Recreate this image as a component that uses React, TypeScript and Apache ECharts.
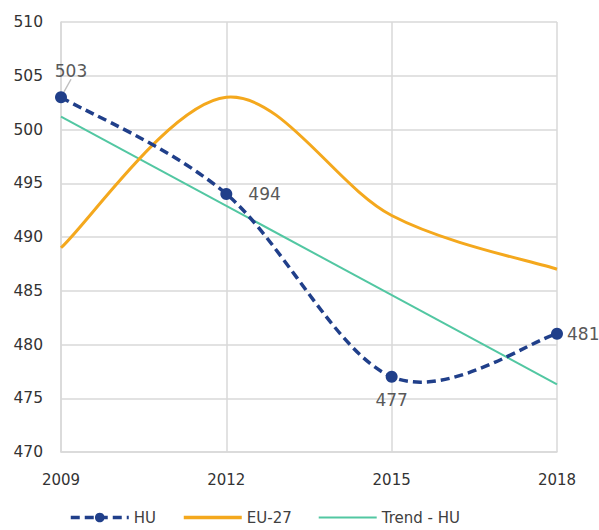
import React, { useEffect, useRef } from "react";
import * as echarts from "echarts";

const years = ["2009", "2012", "2015", "2018"];
const yTicks = [470, 510, 5];
const huValues = [503, 494, 477, 481];
const euValues = [489, 503, 492, 487];
const trendValues = [501.2, null, null, 476.3];

const FONT = "DejaVu Sans, Verdana, sans-serif";
const BLUE = "#203f8a";
const ORANGE = "#f4a81d";
const GREEN = "#52c7a2";
const GRID = "#d9d9d9";

function splinePath(pts: number[][]): string {
  const n = pts.length;
  let d = `M${pts[0][0]},${pts[0][1]}`;
  for (let i = 0; i < n - 1; i++) {
    const p0 = pts[Math.max(i - 1, 0)];
    const p1 = pts[i];
    const p2 = pts[i + 1];
    const p3 = pts[Math.min(i + 2, n - 1)];
    const c1x = p1[0] + (p2[0] - p0[0]) / 6;
    const c1y = p1[1] + (p2[1] - p0[1]) / 6;
    const c2x = p2[0] - (p3[0] - p1[0]) / 6;
    const c2y = p2[1] - (p3[1] - p1[1]) / 6;
    d += ` C${c1x},${c1y} ${c2x},${c2y} ${p2[0]},${p2[1]}`;
  }
  return d;
}

function curveSeries(values: number[], stroke: string, width: number, dash: number[] | null, z: number) {
  return {
    type: "custom",
    silent: true,
    z,
    data: values.map((v, i) => [i, v]),
    encode: { x: 0, y: 1 },
    renderItem: (params: any, api: any) => {
      if (params.dataIndex !== 0) return null;
      const pts = values.map((v, i) => api.coord([i, v]));
      return {
        type: "path",
        shape: { pathData: splinePath(pts) },
        style: { fill: "none", stroke, lineWidth: width, lineDash: dash || undefined },
      };
    },
  };
}

export default function App() {
  const ref = useRef<HTMLDivElement>(null);
  useEffect(() => {
    if (!ref.current) return;
    const chart = echarts.init(ref.current, null, { renderer: "svg" });
    const labelPos = [
      { position: "top", distance: 6 },
      { position: "right", distance: 16 },
      { position: "bottom", distance: 9 },
      { position: "right", distance: 4 },
    ];
    const hidden = { color: "rgba(0,0,0,0)", opacity: 0, borderWidth: 0 };
    chart.setOption({
      animation: false,
      textStyle: { fontFamily: FONT },
      grid: { left: 61, right: 42, top: 22, bottom: 78, containLabel: false },
      legend: {
        bottom: 0,
        left: 64,
        itemWidth: 58,
        itemHeight: 12,
        itemGap: 26,
        textStyle: { fontFamily: FONT, fontSize: 15, color: "#404040" },
        data: [
          {
            name: "HU",
            itemStyle: { color: BLUE, opacity: 1 },
            lineStyle: { color: BLUE, width: 3.5, type: [9, 5], opacity: 1 },
          },
          {
            name: "EU-27",
            itemStyle: hidden,
            lineStyle: { color: ORANGE, width: 3.5, type: "solid", opacity: 1 },
          },
          {
            name: "Trend - HU",
            itemStyle: hidden,
            lineStyle: { color: GREEN, width: 2, type: "solid", opacity: 1 },
          },
        ],
      },
      xAxis: {
        type: "category",
        boundaryGap: false,
        data: years,
        axisLine: { show: true, lineStyle: { color: GRID, width: 1.5 } },
        axisTick: { show: false },
        axisLabel: { fontFamily: FONT, fontSize: 15, color: "#333", margin: 20 },
        splitLine: { show: true, lineStyle: { color: GRID, width: 1.5 } },
      },
      yAxis: {
        type: "value",
        min: yTicks[0],
        max: yTicks[1],
        interval: yTicks[2],
        axisLine: { show: true, lineStyle: { color: GRID, width: 1.5 } },
        axisTick: { show: false },
        axisLabel: { fontFamily: FONT, fontSize: 15.5, color: "#333", margin: 18 },
        splitLine: { show: true, lineStyle: { color: GRID, width: 1.5 } },
      },
      series: [
        curveSeries(euValues, ORANGE, 3, null, 3),
        curveSeries(huValues, BLUE, 3.5, [9, 5], 4),
        {
          name: "HU",
          type: "line",
          z: 5,
          symbol: "circle",
          symbolSize: 12,
          itemStyle: { color: BLUE },
          lineStyle: { color: BLUE, width: 3.5, type: [9, 5], opacity: 0 },
          data: huValues.map((v, i) => ({
            value: v,
            label: {
              show: true,
              fontFamily: FONT,
              fontSize: 17,
              color: "#595959",
              ...labelPos[i],
            },
            labelLine: { show: i === 0, lineStyle: { color: "#bfbfbf", width: 1.5 } },
          })),
          labelLayout: (p: any) => (p.dataIndex === 0 ? { dx: 10, dy: -6 } : {}),
          labelLine: { show: false },
        },
        {
          name: "EU-27",
          type: "line",
          z: 2,
          symbol: "none",
          itemStyle: { color: ORANGE },
          lineStyle: { color: ORANGE, width: 3, opacity: 0 },
          data: euValues,
        },
        {
          name: "Trend - HU",
          type: "line",
          z: 2,
          symbol: "none",
          connectNulls: true,
          itemStyle: { color: GREEN },
          lineStyle: { color: GREEN, width: 2 },
          data: trendValues,
        },
      ],
    });
    return () => chart.dispose();
  }, []);
  return (
    <div
      ref={ref}
      style={{ position: "fixed", left: 0, top: 0, width: 599, height: 530, background: "#fff" }}
    />
  );
}
